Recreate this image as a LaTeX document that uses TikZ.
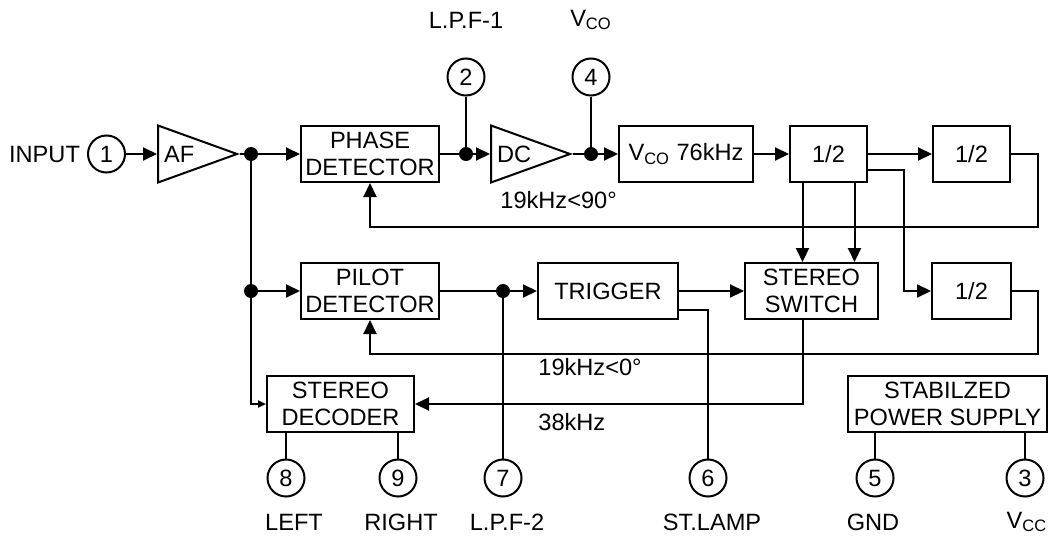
\documentclass[tikz,border=0pt]{standalone}
\usepackage{fontspec}
\setmainfont{Liberation Sans}
\usetikzlibrary{arrows.meta,shapes.geometric}
\tikzset{
  blockbox/.style={draw, line width=1pt, inner sep=0pt, align=center,
    minimum height=28pt},
  ampbox/.style={draw, line width=1pt, isosceles triangle,
    isosceles triangle stretches, inner sep=0pt, minimum width=28.5pt,
    minimum height=39.5pt, anchor=west},
  pinbox/.style={draw, circle, line width=1pt, inner sep=0pt,
    minimum size=18.5pt},
  junction/.style={circle, fill, inner sep=0pt, minimum size=7pt},
  sigline/.style={line width=1pt},
  sigarrow/.style={line width=1pt, -{Triangle[length=7pt,width=6.5pt]}},
  smallarrow/.style={line width=1pt, -{Triangle[length=4pt,width=3.5pt]}},
  freetext/.style={inner sep=0pt, anchor=west},
  every node/.append style={font=\fontsize{11.8}{13.2}\selectfont},
}

\begin{document}
\begin{tikzpicture}[x=0.5pt, y=-0.5pt]
  \useasboundingbox (0,0) rectangle (1052,540);
  % first row
  \node[pinbox] (p1) at (106.5,154) {1};
  \node[anchor=east] (intxt) at (p1.west) {INPUT};
  \node[ampbox] (af) at (157,154) {};
  \node[anchor=west] (aftxt) at (af.west) {AF};
  \node[junction] (j1) at (251,154) {};
  \node[blockbox, minimum width=69pt] (phase) at (370,154) {PHASE\\DETECTOR};
  \node[junction] (j2) at (466,154) {};
  \node[pinbox] (p2) at (466,77) {2};
  \node (lpf1) at (466,20) {L.P.F-1};
  \node[ampbox] (dc) at (490,154) {};
  \node[anchor=west] (dctxt) at (dc.west) {DC};
  \node[junction] (j3) at (591,154) {};
  \node[pinbox] (p4) at (591,77) {4};
  \node (vcotxt) at (591,20) {V\textsubscript{CO}};
  \node[blockbox, minimum width=67pt] (vco) at (686,154) {V\textsubscript{CO} 76kHz};
  \node[blockbox, minimum width=38.5pt] (div1) at (828.5,154) {1/2};
  \node[blockbox, minimum width=38.5pt] (div2) at (971.5,154) {1/2};
  \node[freetext] (ph90) at (500,200) {19kHz<90°};
  % second row
  \node[junction] (j4) at (251,291) {};
  \node[blockbox, minimum width=69pt] (pilot) at (370,291) {PILOT\\DETECTOR};
  \node[junction] (j5) at (503,291) {};
  \node[blockbox, minimum width=70pt] (trig) at (608,291) {TRIGGER};
  \node[blockbox, minimum width=66.5pt] (switch) at (811.5,291) {STEREO\\SWITCH};
  \node[blockbox, minimum width=39.5pt] (div3) at (971.5,291) {1/2};
  \node[freetext] (ph0) at (538,367) {19kHz<0°};
  % third row
  \node[blockbox, minimum width=73.5pt] (dec) at (340.5,404) {STEREO\\DECODER};
  \node[freetext] (f38) at (538,422) {38kHz};
  \node[blockbox, minimum width=99.5pt] (power) at (947.5,404) {STABILZED\\POWER SUPPLY};
  % pins at the bottom
  \node[pinbox] (p8) at (286,478) {8};
  \node[pinbox] (p9) at (398,478) {9};
  \node[pinbox] (p7) at (503,478) {7};
  \node[pinbox] (p6) at (708,478) {6};
  \node[pinbox] (p5) at (875,478) {5};
  \node[pinbox] (p3) at (1025,478) {3};
  \node (lleft) at (294,522) {LEFT};
  \node (lright) at (401,522) {RIGHT};
  \node (lpf2) at (507,522) {L.P.F-2};
  \node (llamp) at (712,522) {ST.LAMP};
  \node (lgnd) at (873,522) {GND};
  \node (lvcc) at (1027,522) {V\textsubscript{CC}};
  \coordinate (fb1) at (1038,227);
  \coordinate (fb2) at (1038,354);

  % connections
  \draw[sigarrow] (p1) -- (af.west);
  \draw[sigline] (af.apex) -- (j1);
  \draw[sigarrow] (j1) -- (phase);
  \draw[sigline] (j1) -- (j4);
  \draw[smallarrow] (j4) |- (dec.west);
  \draw[sigarrow] (j4) -- (pilot);
  \draw[sigline] (phase) -- (j2);
  \draw[sigline] (p2) -- (j2);
  \draw[sigarrow] (j2) -- (dc.west);
  \draw[sigline] (dc.apex) -- (j3);
  \draw[sigline] (p4) -- (j3);
  \draw[sigarrow] (j3) -- (vco);
  \draw[sigarrow] (vco) -- (div1);
  \draw[sigarrow] (div1) -- (div2);
  \draw[sigarrow] (div2.east) -| (fb1) -| (phase.south);
  \draw[sigarrow] ([xshift=-13pt]div1.south) -- ([xshift=-13pt]div1.south |- switch.north);
  \draw[sigarrow] ([xshift=13pt]div1.south) -- ([xshift=13pt]div1.south |- switch.north);
  \draw[sigarrow] ([yshift=-8pt]div1.east) -- ++(18pt,0) |- (div3.west);
  \draw[sigarrow] (div3.east) -| (fb2) -| (pilot.south);
  \draw[sigline] (pilot) -- (j5);
  \draw[sigarrow] (j5) -- (trig);
  \draw[sigline] (j5) -- (p7);
  \draw[sigarrow] (trig) -- (switch);
  \draw[sigline] ([yshift=-9.5pt]trig.east) -| (p6);
  \draw[sigarrow] ([xshift=-4.25pt]switch.south) |- (dec.east);
  \draw[sigline] (dec.south -| p8) -- (p8);
  \draw[sigline] (dec.south -| p9) -- (p9);
  \draw[sigline] (power.south -| p5) -- (p5);
  \draw[sigline] (power.south -| p3) -- (p3);
\end{tikzpicture}
\end{document}
